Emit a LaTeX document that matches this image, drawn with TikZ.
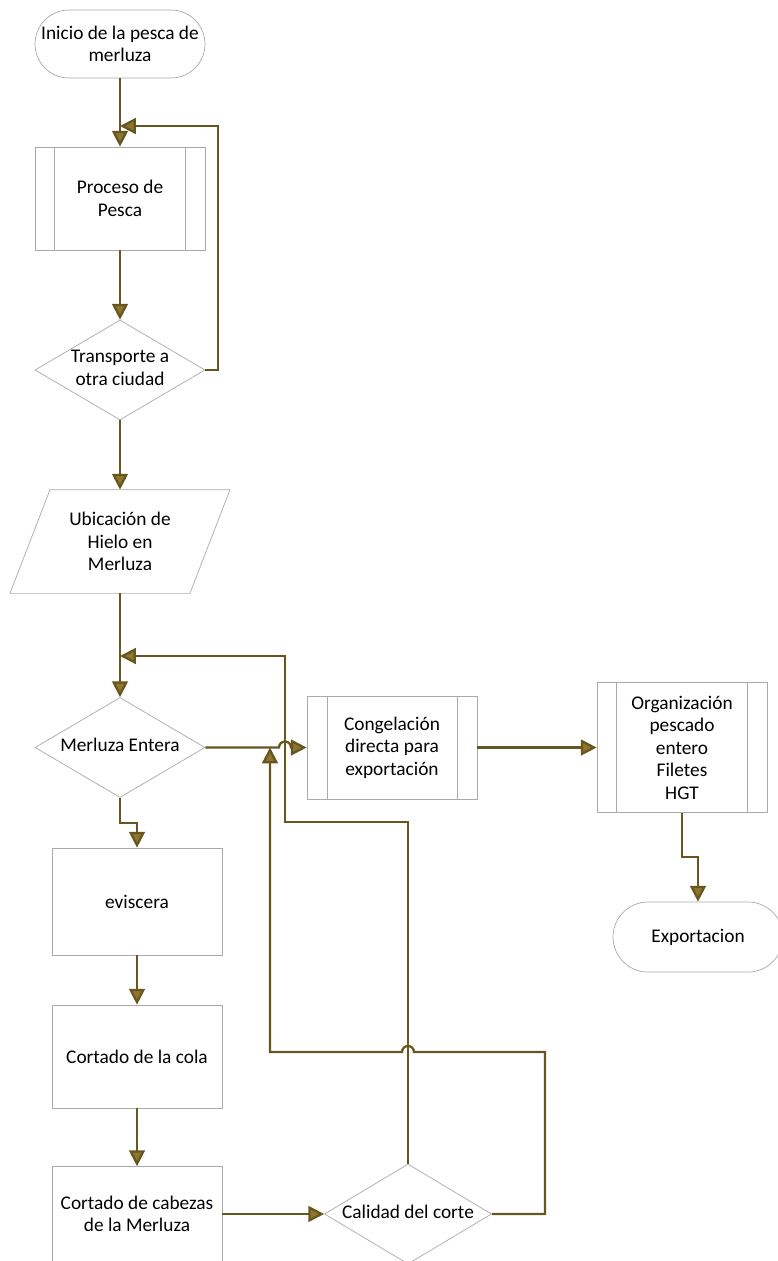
\documentclass[tikz,border=0pt]{standalone}
\usepackage{fontspec}
\setmainfont{Carlito}
\usepackage{tikz}
\usetikzlibrary{arrows.meta,shapes.geometric}

\definecolor{flowcol}{RGB}{104,86,32}
\definecolor{tipcol}{RGB}{140,118,48}
\definecolor{framecol}{RGB}{170,170,170}

% text inside a diamond that does not change its size
\newcommand{\dtext}[1]{\raisebox{-4.9pt}{\smash{\makebox[0pt]{\begin{tabular}{@{}c@{}}#1\end{tabular}}}}}

\begin{document}
\begin{tikzpicture}[
        font=\fontsize{11}{12.8}\selectfont,
        frame/.style={draw=framecol, line width=0.4pt},
        box/.style={frame, fill=white, rectangle, minimum width=3.4cm, minimum height=2.06cm, align=center, inner sep=2pt},
        proc/.style={box},
        term/.style={frame, fill=white, rectangle, rounded corners=0.68cm, minimum width=3.4cm, minimum height=1.36cm, align=center, inner sep=2pt},
        decision/.style={frame, fill=white, diamond, minimum width=3.4cm, minimum height=2cm, inner sep=0pt},
        plain/.style={rectangle, minimum width=3.4cm, minimum height=2.06cm, align=center, inner sep=2pt},
        flow/.style={draw=flowcol, line width=1.3pt},
        arr/.style={flow, -{Triangle[length=9pt, width=9pt, fill=tipcol]}}
    ]
        \useasboundingbox (0,0) rectangle (15.56,-25.22);

        % Start, fishing and transport
        \node [term] (inicio) at (2.40,-0.88) {Inicio de la pesca de\\merluza};
        \node [proc] (pesca) at (2.40,-3.97) {Proceso de\\Pesca};
        \draw [frame] ([xshift=0.4cm]pesca.north west) -- ([xshift=0.4cm]pesca.south west);
        \draw [frame] ([xshift=-0.4cm]pesca.north east) -- ([xshift=-0.4cm]pesca.south east);
        \node [decision] (transp) at (2.40,-7.40) {\dtext{Transporte a\\otra ciudad}};
        \coordinate (j1) at (2.40,-2.52);

        % Ice
        \node [plain] (hielo) at (2.40,-10.83) {Ubicación de\\Hielo en\\Merluza};
        \draw [frame] ([xshift=-1.4cm]hielo.north) -- ([xshift=2.2cm]hielo.north)
            -- ([xshift=1.4cm]hielo.south) -- ([xshift=-2.2cm]hielo.south) -- cycle;

        % Whole hake and export branch
        \node [decision] (entera) at (2.40,-14.95) {\dtext{Merluza Entera}};
        \coordinate (j2) at (2.40,-13.12);
        \node [proc] (congel) at (7.84,-14.95) {Congelación\\directa para\\exportación};
        \draw [frame] ([xshift=0.42cm]congel.north west) -- ([xshift=0.42cm]congel.south west);
        \draw [frame] ([xshift=-0.4cm]congel.north east) -- ([xshift=-0.4cm]congel.south east);
        \node [proc, minimum height=2.6cm] (org) at (13.64,-14.95) {Organización\\pescado\\entero\\Filetes\\HGT};
        \draw [frame] ([xshift=0.4cm]org.north west) -- ([xshift=0.4cm]org.south west);
        \draw [frame] ([xshift=-0.4cm]org.north east) -- ([xshift=-0.4cm]org.south east);
        \node [term, minimum height=1.40cm, rounded corners=0.7cm] (export) at (13.96,-18.74) {Exportacion};

        % Cutting line
        \node [box, minimum height=2.14cm] (evisc) at (2.74,-18.03) {eviscera};
        \node [box] (cola) at (2.74,-21.13) {Cortado de la cola};
        \node [box, minimum height=1.9cm] (cabezas) at (2.74,-24.28) {Cortado de cabezas\\de la Merluza};
        \node [decision, minimum width=3.34cm] (calidad) at (8.16,-24.28) {\dtext{Calidad del corte}};
        \coordinate (jmp1) at (5.70,-14.95);
        \coordinate (jmp2) at (8.16,-21.04);
        \coordinate (j3) at (5.40,-14.95);

        % Connectors
        \draw [arr] (inicio) -- (pesca);
        \draw [arr] (pesca) -- (transp);
        \draw [arr] (transp.east) -- ++(0.26,0) |- (j1);
        \draw [arr] (transp) -- (hielo);
        \draw [arr] (hielo) -- (entera);
        \draw [arr] (entera.east) -- ([xshift=-0.12cm]jmp1) arc [start angle=180, end angle=0, radius=0.12cm] -- (congel.west);
        \draw [arr] (congel) -- (org);
        \draw [arr] (org.south) -- ++(0,-0.88) -| (export.north);
        \draw [arr] (entera.south) -- ++(0,-0.5) -| (evisc.north);
        \draw [arr] (evisc) -- (cola);
        \draw [arr] (cola) -- (cabezas);
        \draw [arr] (cabezas) -- (calidad);
        \draw [arr] (calidad.north) |- (5.70,-16.44) |- (j2);
        \draw [arr] (calidad.east) -| ([xshift=2.74cm]jmp2) -- ([xshift=0.12cm]jmp2)
            arc [start angle=0, end angle=180, radius=0.12cm] -- (jmp2 -| j3) -- (j3);
    \end{tikzpicture}
\end{document}
